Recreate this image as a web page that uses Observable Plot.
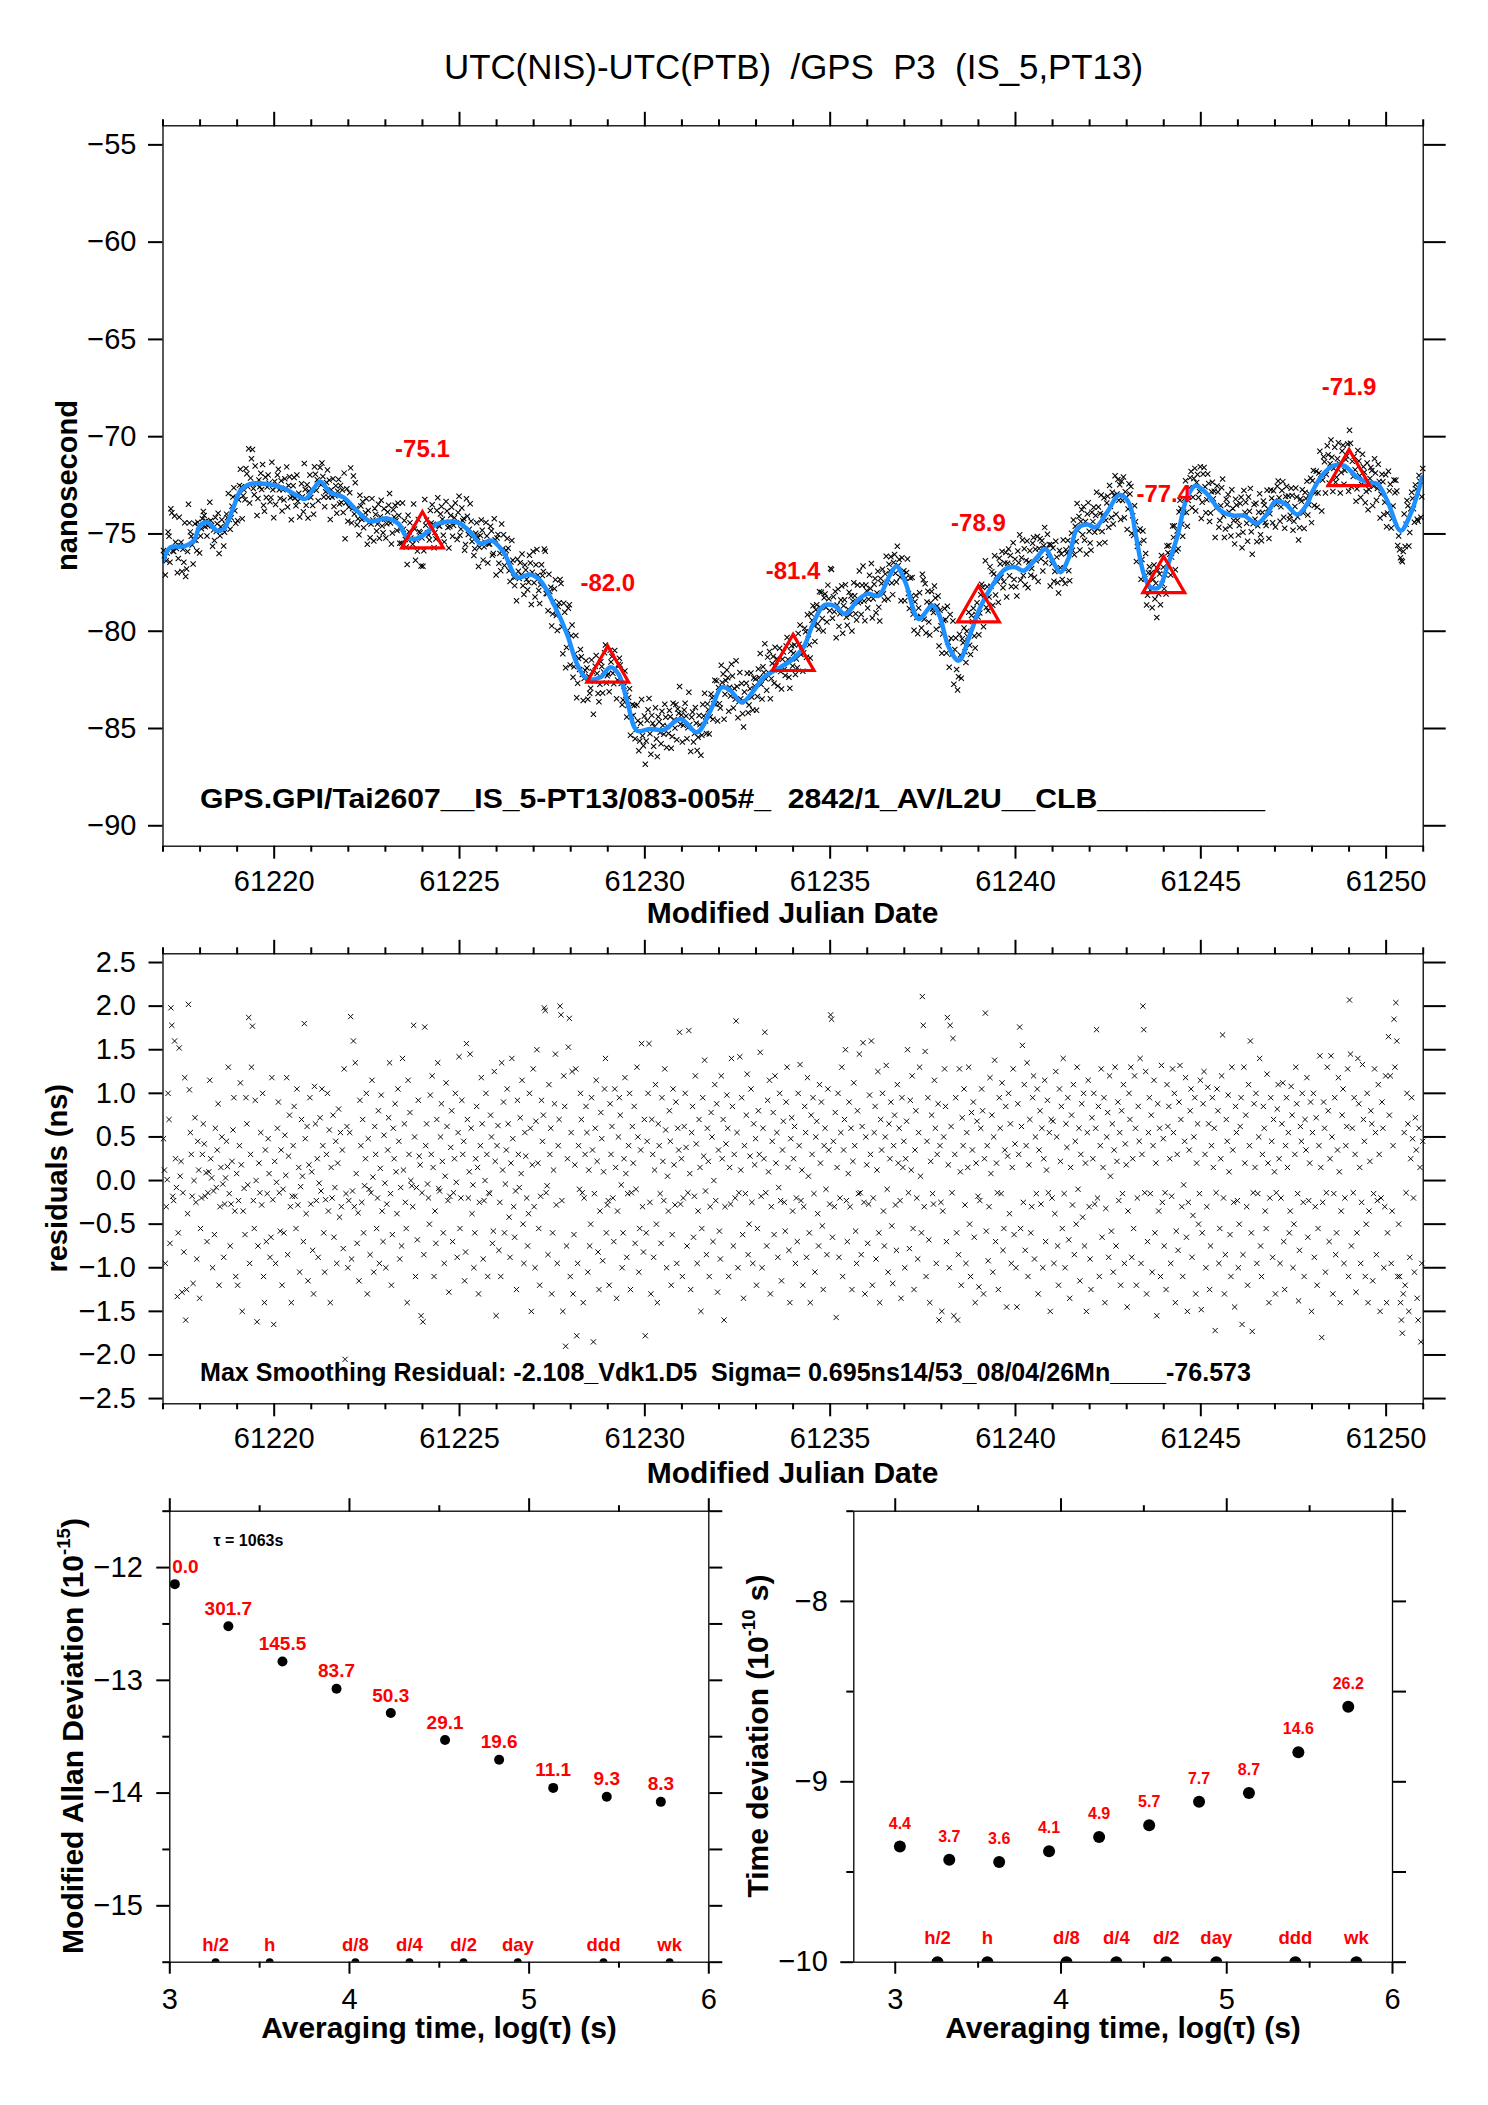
<!DOCTYPE html>
<html><head><meta charset="utf-8">
<script src="https://cdn.jsdelivr.net/npm/d3@7"></script>
<script src="https://cdn.jsdelivr.net/npm/@observablehq/plot@0.6"></script>
<style>
body{margin:0;background:#fff;}
#root{position:relative;width:1488px;height:2105px;background:#fff;overflow:hidden;}
#root > div, #root > svg{position:absolute;}
</style></head><body><div id="root"></div>
<script>
// ---------- data ----------
const smoothMJD = [61217.00,61217.20,61217.56,61217.83,61218.00,61218.19,61218.46,61218.64,61218.90,61219.09,61219.36,61219.80,61220.25,61220.62,61220.84,61221.06,61221.24,61221.51,61221.87,61222.23,61222.59,61223.04,61223.36,61223.58,61223.81,61224.12,61224.39,61224.93,61225.29,61225.56,61225.87,61226.19,61226.55,61226.91,61227.18,61227.54,61227.90,61228.17,61228.44,61228.80,61229.07,61229.29,61229.52,61229.79,61230.15,61230.51,61230.96,61231.41,61231.77,61232.08,61232.31,61232.62,61232.94,61233.21,61233.66,61233.98,61234.29,61234.52,61234.83,61235.10,61235.41,61235.73,61236.00,61236.31,61236.58,61236.79,61237.03,61237.39,61237.75,61237.93,61238.20,61238.47,61238.78,61239.05,61239.37,61239.73,61240.00,61240.22,61240.58,61240.81,61240.99,61241.21,61241.44,61241.66,61241.93,61242.16,61242.47,61242.80,61243.06,61243.24,61243.46,61243.64,61243.87,61244.09,61244.36,61244.63,61244.86,61245.17,61245.53,61245.89,61246.16,61246.52,61246.79,61247.01,61247.28,61247.60,61247.87,61248.00,61248.27,61248.58,61248.86,61249.22,61249.49,61249.76,61250.03,61250.39,61250.66,61250.97];
const smoothNs = [-76.37,-75.69,-75.64,-75.34,-74.57,-74.40,-74.83,-74.74,-73.63,-72.78,-72.43,-72.43,-72.64,-73.03,-73.20,-72.69,-72.30,-72.86,-73.12,-73.80,-74.35,-74.20,-74.49,-75.17,-75.26,-74.92,-74.49,-74.40,-74.90,-75.48,-75.34,-75.94,-77.23,-77.09,-77.40,-78.60,-80.14,-81.68,-82.45,-82.37,-81.85,-82.20,-83.57,-85.11,-85.02,-85.07,-84.51,-85.19,-84.08,-82.88,-83.05,-83.65,-83.05,-82.37,-81.85,-81.45,-80.80,-79.70,-78.68,-78.68,-79.11,-78.43,-78.08,-78.17,-77.23,-76.66,-77.49,-79.37,-78.68,-79.11,-80.82,-81.51,-80.14,-78.77,-77.66,-76.80,-76.71,-76.89,-76.20,-75.77,-76.34,-76.97,-76.20,-74.74,-74.52,-74.66,-73.89,-73.00,-73.40,-75.00,-77.06,-77.74,-77.74,-76.71,-75.17,-73.12,-72.52,-72.95,-73.80,-74.06,-74.06,-74.46,-73.97,-73.34,-73.46,-74.00,-73.46,-72.86,-72.00,-71.49,-71.49,-72.09,-72.35,-72.43,-73.29,-74.83,-73.97,-72.09];

const triangleMJD = [61224, 61229, 61234, 61239, 61244, 61249];
const triangleNs = [-75.1, -82.0, -81.4, -78.9, -77.4, -71.9];
const triangleLabels = ["-75.1", "-82.0", "-81.4", "-78.9", "-77.4", "-71.9"];

// smoothing residuals, hundredths of ns, in time order from MJD 61217 to 61251 (one row per day)
const residuals = [
48,12,-95,-30,1,100,70,-72,198,178,-18,-23,160,25,-8,-133,-60,152,5,22,-128,-14,-82,118,-160,-125,-38,202,104,55,30,-18,-118,0,72,-25,-90,45,12,-135,
-55,-20,30,65,42,-18,9,-70,-14,10,115,25,3,-100,-12,-62,60,-8,35,88,-120,-30,15,50,-4,-88,-27,3,45,16,130,-15,-75,-27,22,58,95,-35,-110,8,
-120,-23,40,112,18,-150,-35,-9,-62,95,65,-5,187,-95,30,130,177,-23,-55,92,0,-162,-75,20,-14,55,-28,100,-110,-140,35,-70,-15,48,8,-88,-65,118,-22,-165,
22,-95,-2,60,90,-14,-58,35,-120,-10,-60,52,6,118,-85,28,75,-30,-140,-18,40,85,-18,-55,105,-28,15,-105,-7,70,5,-70,180,48,-38,62,-115,18,95,-27,
10,-80,-130,108,65,-23,25,-88,-3,72,-12,105,40,-60,-105,-22,30,100,-35,58,-140,15,-20,75,-65,-8,45,-95,20,82,-42,55,-30,35,-78,128,-205,-15,62,-100,
-23,55,188,-90,-12,160,-30,135,8,-72,-37,-115,92,40,-25,70,-60,-6,25,100,-130,48,-10,-85,-14,115,4,-105,62,30,-55,-20,80,-95,14,98,-35,-70,52,-3,
-100,-27,35,72,135,-15,-120,-62,60,25,88,10,-38,105,45,-90,-8,-75,140,12,65,-25,-55,-140,115,30,78,0,-6,-30,178,50,-110,-8,-68,92,28,18,-155,-14,
-162,-85,176,40,65,-4,-20,-50,98,30,120,15,-110,-35,-72,70,135,-9,-12,50,88,22,-60,-95,5,112,62,-23,-128,-18,38,80,-70,-14,25,100,-2,-88,55,142,
-55,-20,92,30,45,-115,-82,157,70,-20,10,145,60,-38,-5,-100,-60,25,85,15,-130,-25,40,118,65,-90,-23,0,100,30,-110,-14,-15,75,50,-72,-58,125,22,-155,
40,63,-80,-25,-110,135,12,90,-60,-4,35,105,65,-42,-88,20,140,48,-30,-65,-12,-125,92,30,-8,72,8,115,-50,-95,55,28,-20,-75,-38,100,60,-150,18,128,
-30,-100,68,150,20,-55,-120,-18,92,45,75,198,195,-14,-6,-85,110,30,60,-130,-60,12,88,145,-28,-95,40,70,200,190,-23,-150,120,85,-190,-75,25,153,186,-110,
55,125,-130,-62,18,128,-178,-95,40,-10,100,70,-14,-140,-20,30,85,55,-105,12,-75,-50,95,35,-185,-15,60,115,22,-82,-125,-35,78,48,-92,10,105,140,-60,-28,
-23,-120,88,30,62,-20,-70,105,15,-135,-35,50,95,75,-5,-100,-60,25,118,8,-88,-15,40,100,-125,-14,62,20,85,-72,-10,130,50,-105,-55,35,157,-30,-82,70,
-178,-60,45,100,157,-25,-130,70,30,-88,12,110,-50,-140,65,40,-15,-72,95,22,-23,128,58,-100,5,-35,80,45,-120,-62,105,18,-28,90,-95,60,35,170,-27,25,
-110,-20,62,100,38,-75,-14,172,8,-125,55,85,-65,-18,120,42,-95,-35,70,15,-150,-55,95,28,138,-12,-85,60,22,-110,-30,78,50,-70,0,110,-23,88,-128,35,
-58,-90,120,25,70,-160,-30,42,98,60,-110,15,-27,140,85,-75,30,-20,183,55,-100,-14,142,12,95,-62,-135,40,-15,75,122,-85,-50,28,105,-25,-95,65,18,48,
-120,-55,80,30,147,-18,-100,60,25,170,-14,-75,92,10,115,-130,-30,45,78,-62,120,20,55,-88,-8,100,-23,-115,35,68,-25,-58,90,130,15,-80,-140,48,72,-35,
25,62,-95,-20,-70,100,40,133,-23,12,-120,-30,85,55,-88,118,5,-60,-140,75,30,95,-15,-105,50,68,-38,-75,110,20,90,-52,-125,40,60,-10,-85,105,35,-27,
190,185,-65,45,-30,78,-157,15,100,-88,-20,55,130,-110,35,70,150,-23,-70,8,90,-30,60,-125,22,112,40,-58,-95,80,-15,145,-14,-85,62,158,-25,-130,50,18,
-72,-27,98,30,160,-120,-20,55,85,-90,12,125,-60,-140,70,35,100,-35,-75,50,132,-10,-105,65,25,90,-52,-118,40,75,-28,-80,110,20,60,-23,-135,95,15,45,
-100,25,68,150,-14,-78,92,12,120,-55,-125,35,80,-20,-90,55,130,5,-60,211,178,-30,148,-110,45,95,-68,-140,22,75,-15,-27,115,60,-95,30,88,-160,40,-25,
-150,-35,50,128,85,-70,187,18,-100,178,62,-14,163,-155,30,95,-60,-160,-85,128,10,-120,72,40,105,-28,-95,55,15,130,-50,-110,78,35,90,-65,-140,20,68,-18,
-122,-23,60,105,80,-130,25,192,-58,40,-92,-30,118,8,75,-105,50,138,-70,20,-14,-125,95,60,-15,112,-80,-55,35,85,-145,28,100,-38,65,-95,15,128,-62,42,
-100,-145,88,30,176,-55,62,155,-25,110,-80,40,135,-110,18,70,-60,-30,95,120,-90,50,-15,105,-130,35,80,-27,60,-100,25,115,-70,12,92,-14,55,-150,70,-20,
68,-95,-38,125,50,-75,-120,105,22,85,-55,140,-15,-100,65,38,95,-68,-135,15,75,-28,110,-85,45,-50,130,-10,60,-115,30,88,-42,100,-75,20,-150,55,115,-30,
-90,-125,72,25,100,-27,60,173,-20,85,-110,40,128,-65,15,95,-140,-32,50,78,-88,120,5,-58,65,-105,35,130,-75,22,90,-23,55,-120,80,-15,110,-95,42,18,
-145,-35,100,70,130,-88,25,-55,120,60,-120,-20,85,45,140,-95,30,200,173,-14,125,-130,-70,55,95,-15,75,-105,40,115,-60,20,-155,88,-35,60,-110,132,-25,48,
-75,-14,-125,110,62,85,25,-95,-18,128,55,100,-140,-58,30,-80,90,132,70,-30,-110,-5,45,118,-65,-150,-25,35,80,105,-88,-40,50,95,-130,20,65,-50,-15,115,
-148,-60,88,125,30,-100,-30,107,65,-125,-75,40,95,15,60,-172,-14,105,80,-95,-55,25,120,167,-20,-130,-85,70,45,98,10,-62,-110,130,35,-25,-145,85,55,-23,
-100,-50,62,95,-165,-85,130,20,75,-30,-120,110,40,160,-60,-173,-14,88,15,100,-95,-15,50,140,-75,-110,30,85,60,-35,-55,122,20,-140,-20,95,45,-88,70,10,
-130,-14,82,110,25,-95,-20,65,112,-70,-125,40,95,15,55,-60,-35,108,75,-100,-50,30,130,88,-15,-138,-80,62,45,100,-25,-110,70,35,118,-65,-23,20,90,-150,
55,100,-88,-30,72,-120,-55,40,143,15,-180,-25,90,60,-105,-14,130,80,-70,25,143,50,-130,-15,95,-85,-60,35,118,10,-140,-35,75,105,-95,-20,40,62,128,-110,
207,145,-75,60,-14,95,30,-128,-60,140,88,15,-95,-25,133,70,45,-110,-50,100,-140,-35,22,80,65,-115,-15,128,55,-85,-23,110,30,-150,-20,90,60,-100,-30,120,
-140,-60,165,75,120,-95,-35,40,185,130,204,160,-110,-50,-110,-140,-160,-175,-130,55,-120,-14,100,65,-150,-88,25,95,48,-20,-105,72,35,-135,-160,60,15,-185,-95,45
];

const mjdRange = [61217, 61251];
const mjdMajorTicks = [61220, 61225, 61230, 61235, 61240, 61245, 61250];
const mjdMinorTicks = [61217, 61218, 61219, 61221, 61222, 61223, 61224, 61226, 61227, 61228, 61229, 61231, 61232, 61233, 61234, 61236, 61237, 61238, 61239, 61241, 61242, 61243, 61244, 61246, 61247, 61248, 61249, 61251];
const nsTicks = [-55, -60, -65, -70, -75, -80, -85, -90];
const residualTicks = [2.5, 2.0, 1.5, 1.0, 0.5, 0.0, -0.5, -1.0, -1.5, -2.0, -2.5];

const logTau = [3.028, 3.326, 3.627, 3.928, 4.230, 4.532, 4.833, 5.134, 5.432, 5.733];
const modAdev = [-12.147, -12.52, -12.833, -13.075, -13.29, -13.53, -13.705, -13.954, -14.032, -14.078];
const modAdevLabels = ["0.0", "301.7", "145.5", "83.7", "50.3", "29.1", "19.6", "11.1", "9.3", "8.3"];
const tdev = [-9.359, -9.432, -9.444, -9.385, -9.306, -9.241, -9.111, -9.062, -8.836, -8.584];
const tdevLabels = ["4.4", "3.7", "3.6", "4.1", "4.9", "5.7", "7.7", "8.7", "14.6", "26.2"];
const markerLogTau = [3.255, 3.556, 4.033, 4.334, 4.635, 4.937, 5.414, 5.782];
const markerLabels = ["h/2", "h", "d/8", "d/4", "d/2", "day", "ddd", "wk"];
const logTauMajor = [3, 4, 5, 6];
const logTauMinor = [3.5, 4.5, 5.5];
const adevRange = [-15.5, -11.5];
const adevMajor = [-12, -13, -14, -15];
const adevMinor = [-11.5, -12.5, -13.5, -14.5, -15.5];
const tdevRange = [-10, -7.5];
const tdevMajor = [-8, -9, -10];
const tdevMinor = [-7.5, -8.5, -9.5];
const tauNote = ["\u03c4 = 1063s"];

// ---------- build ----------
const fontFam = "'Liberation Sans', Arial, Helvetica, sans-serif";
const root = d3.select("#root");
const fmtMinus = d => (d < 0 ? "\u2212" : "") + Math.abs(d);
const fmtMinus1 = d => (d < 0 ? "\u2212" : "") + Math.abs(d).toFixed(1);
const none = () => "";
const baseStyle = {fontFamily: fontFam, fontSize: "29px", background: "transparent", overflow: "visible"};

const N = residuals.length;
const smoothAt = d3.scaleLinear().domain(smoothMJD).range(smoothNs).clamp(true);
const samples = residuals.map((r, i) => {
  const t = mjdRange[0] + (i + 0.5) * (mjdRange[1] - mjdRange[0]) / N;
  return {t, res: r / 100, ns: smoothAt(t) + r / 100};
});
const smooth = smoothMJD.map((t, i) => ({t, v: smoothNs[i]}));
const triangles = triangleMJD.map((t, i) => ({t, v: triangleNs[i], label: triangleLabels[i]}));

function place(node, left, top) {
  node.style.position = "absolute";
  node.style.left = left + "px";
  node.style.top = top + "px";
  root.node().appendChild(node);
}

function mjdAxes() {
  return [
    Plot.axisX(mjdMajorTicks, {anchor: "bottom", tickSize: 13, tickPadding: 11, tickFormat: d => String(d), strokeWidth: 2, label: null}),
    Plot.axisX(mjdMinorTicks, {anchor: "bottom", tickSize: 6, tickFormat: none, strokeWidth: 2, label: null}),
    Plot.axisX(mjdMajorTicks, {anchor: "top", tickSize: 14.5, tickFormat: none, strokeWidth: 2, label: null}),
    Plot.axisX(mjdMinorTicks, {anchor: "top", tickSize: 7, tickFormat: none, strokeWidth: 2, label: null})
  ];
}

// top panel
const topPlot = Plot.plot({
  width: 1488, height: 930,
  marginLeft: 162.5, marginRight: 65.3, marginTop: 125.3, marginBottom: 84.3,
  style: baseStyle,
  x: {domain: mjdRange},
  y: {domain: [-91.05, -54.02]},
  marks: [
    Plot.dot(samples, {x: "t", y: "ns", symbol: "times", r: 2.5, stroke: "black", strokeWidth: 1.05}),
    Plot.line(smooth, {x: "t", y: "v", stroke: "#1e90ff", strokeWidth: 4.5, curve: "catmull-rom", clip: true}),
    Plot.dot(triangles, {x: "t", y: "v", symbol: "triangle", r: 15.5, stroke: "red", strokeWidth: 3.2, fill: "none", strokeLinejoin: "miter"}),
    Plot.text(triangles, {x: "t", y: "v", text: "label", dy: -79, lineAnchor: "bottom", fill: "red", fontWeight: "bold", fontSize: 24}),
    Plot.frame({stroke: "black", strokeWidth: 1.3}),
    ...mjdAxes(),
    Plot.axisY(nsTicks, {anchor: "left", tickSize: 14.5, tickPadding: 12, tickFormat: fmtMinus, strokeWidth: 2, label: null}),
    Plot.axisY(nsTicks, {anchor: "right", tickSize: 22, tickFormat: none, strokeWidth: 2, label: null})
  ]
});
place(topPlot, 0, 0);

// residual panel
const midPlot = Plot.plot({
  width: 1488, height: 540,
  marginLeft: 162.5, marginRight: 65.3, marginTop: 23.3, marginBottom: 66.7,
  style: baseStyle,
  x: {domain: mjdRange},
  y: {domain: [-2.56, 2.6]},
  marks: [
    Plot.dot(samples, {x: "t", y: "res", symbol: "times", r: 2.5, stroke: "black", strokeWidth: 0.95}),
    Plot.frame({stroke: "black", strokeWidth: 1.3}),
    ...mjdAxes(),
    Plot.axisY(residualTicks, {anchor: "left", tickSize: 14, tickPadding: 13, tickFormat: fmtMinus1, strokeWidth: 2, label: null}),
    Plot.axisY(residualTicks, {anchor: "right", tickSize: 22, tickFormat: none, strokeWidth: 2, label: null})
  ]
});
place(midPlot, 0, 930);

function tauAxes() {
  return [
    Plot.axisX(logTauMajor, {anchor: "bottom", tickSize: 12, tickPadding: 14, tickFormat: d => String(d), strokeWidth: 2, label: null}),
    Plot.axisX(logTauMinor, {anchor: "bottom", tickSize: 6, tickFormat: none, strokeWidth: 2, label: null}),
    Plot.axisX(logTauMajor, {anchor: "top", tickSize: 13.5, tickFormat: none, strokeWidth: 2, label: null}),
    Plot.axisX(logTauMinor, {anchor: "top", tickSize: 6.5, tickFormat: none, strokeWidth: 2, label: null})
  ];
}

// bottom-left: modified Allan deviation
const adevData = logTau.map((x, i) => ({x, y: modAdev[i], label: modAdevLabels[i]}));
const markerData = markerLogTau.map((x, i) => ({x, label: markerLabels[i]}));
const blPlot = Plot.plot({
  width: 744, height: 540,
  marginLeft: 169.3, marginRight: 35.7, marginTop: 20.7, marginBottom: 68.3,
  style: baseStyle,
  x: {domain: [3, 6]},
  y: {domain: adevRange},
  marks: [
    Plot.frame({stroke: "black", strokeWidth: 1.3}),
    Plot.dot(adevData, {x: "x", y: "y", r: 5, fill: "black"}),
    Plot.text(adevData.slice(1), {x: "x", y: "y", text: "label", dy: -11.4, lineAnchor: "bottom", fill: "red", fontWeight: "bold", fontSize: 19}),
    Plot.text(adevData.slice(0, 1), {x: "x", y: "y", text: "label", dy: -11.4, dx: -2.6, textAnchor: "start", lineAnchor: "bottom", fill: "red", fontWeight: "bold", fontSize: 19}),
    Plot.dot(markerData, {x: "x", y: () => adevRange[0], r: 4, fill: "black", clip: true}),
    Plot.text(markerData, {x: "x", y: () => adevRange[0], text: "label", dy: -11.7, lineAnchor: "bottom", fill: "red", fontWeight: "bold", fontSize: 18.5}),
    Plot.text(tauNote, {x: () => 3.243, y: () => -11.81, text: d => d, textAnchor: "start", lineAnchor: "bottom", fill: "black", fontWeight: "bold", fontSize: 16}),
    ...tauAxes(),
    Plot.axisY(adevMajor, {anchor: "left", tickSize: 13, tickPadding: 14, tickFormat: fmtMinus, strokeWidth: 2, label: null}),
    Plot.axisY(adevMinor, {anchor: "left", tickSize: 7, tickFormat: none, strokeWidth: 2, label: null}),
    Plot.axisY(adevMajor.concat(adevMinor), {anchor: "right", tickSize: 13, tickFormat: none, strokeWidth: 2, label: null})
  ]
});
place(blPlot, 0, 1490);

// bottom-right: time deviation
const tdevData = logTau.map((x, i) => ({x, y: tdev[i], label: tdevLabels[i]}));
const brPlot = Plot.plot({
  width: 744, height: 540,
  marginLeft: 109.3, marginRight: 96, marginTop: 20.7, marginBottom: 68.3,
  style: baseStyle,
  x: {domain: [2.75, 6]},
  y: {domain: tdevRange},
  marks: [
    Plot.frame({stroke: "black", strokeWidth: 1.3}),
    Plot.dot(tdevData, {x: "x", y: "y", r: 6, fill: "black"}),
    Plot.text(tdevData, {x: "x", y: "y", text: "label", dy: -18, lineAnchor: "bottom", fill: "red", fontWeight: "bold", fontSize: 16}),
    Plot.dot(markerData, {x: "x", y: () => tdevRange[0], r: 6, fill: "black", clip: true}),
    Plot.text(markerData, {x: "x", y: () => tdevRange[0], text: "label", dy: -18, lineAnchor: "bottom", fill: "red", fontWeight: "bold", fontSize: 18.5}),
    ...tauAxes(),
    Plot.axisY(tdevMajor, {anchor: "left", tickSize: 13, tickPadding: 13, tickFormat: fmtMinus, strokeWidth: 2, label: null}),
    Plot.axisY(tdevMinor, {anchor: "left", tickSize: 7, tickFormat: none, strokeWidth: 2, label: null}),
    Plot.axisY(tdevMajor.concat(tdevMinor), {anchor: "right", tickSize: 13, tickFormat: none, strokeWidth: 2, label: null})
  ]
});
place(brPlot, 744, 1490);

// ---------- free text overlay ----------
const overlay = root.append("svg")
  .attr("width", 1488).attr("height", 2105)
  .style("left", "0px").style("top", "0px").style("pointer-events", "none");

function addText(x, y, parts, o = {}) {
  const size = o.size || 30;
  const t = overlay.append("text")
    .attr("font-family", fontFam)
    .attr("font-size", size)
    .attr("font-weight", o.weight || "bold")
    .attr("fill", o.fill || "black")
    .attr("text-anchor", o.anchor || "middle")
    .attr("xml:space", "preserve")
    .style("white-space", "pre")
    .attr("transform", `translate(${x},${y})` + (o.rotate ? ` rotate(${o.rotate})` : ""));
  if (o.textLength) t.attr("textLength", o.textLength).attr("lengthAdjust", "spacingAndGlyphs");
  let shift = 0;
  for (const p of parts) {
    const sup = Array.isArray(p) && p[1];
    const s = Array.isArray(p) ? p[0] : p;
    const want = sup ? -size * 0.42 : 0;
    const span = t.append("tspan").text(s);
    if (sup) span.attr("font-size", size * 0.62);
    if (want !== shift) span.attr("dy", want - shift);
    shift = want;
  }
  return t;
}

addText(793.5, 79, ["UTC(NIS)-UTC(PTB)  /GPS  P3  (IS_5,PT13)"], {size: 35, weight: "normal", textLength: 699});
addText(77, 485.5, ["nanosecond"], {size: 29, rotate: -90});
addText(200, 808, ["GPS.GPI/Tai2607__IS_5-PT13/083-005#_  2842/1_AV/L2U__CLB__________"], {size: 28, anchor: "start", textLength: 1065});
addText(792.6, 923, ["Modified Julian Date"], {size: 30});
addText(67, 1178.3, ["residuals (ns)"], {size: 29, rotate: -90});
addText(200, 1381, ["Max Smoothing Residual: -2.108_Vdk1.D5  Sigma= 0.695ns14/53_08/04/26Mn____-76.573"], {size: 25, anchor: "start", textLength: 1051});
addText(792.6, 1483, ["Modified Julian Date"], {size: 30});
addText(83, 1736, ["Modified Allan Deviation (10", ["-15", true], ")"], {size: 30, rotate: -90});
addText(768, 1736, ["Time deviation (10", ["-10", true], " s)"], {size: 30, rotate: -90});
addText(439, 2038, ["Averaging time, log(\u03c4) (s)"], {size: 30});
addText(1123, 2038, ["Averaging time, log(\u03c4) (s)"], {size: 30});
</script>
</body></html>
